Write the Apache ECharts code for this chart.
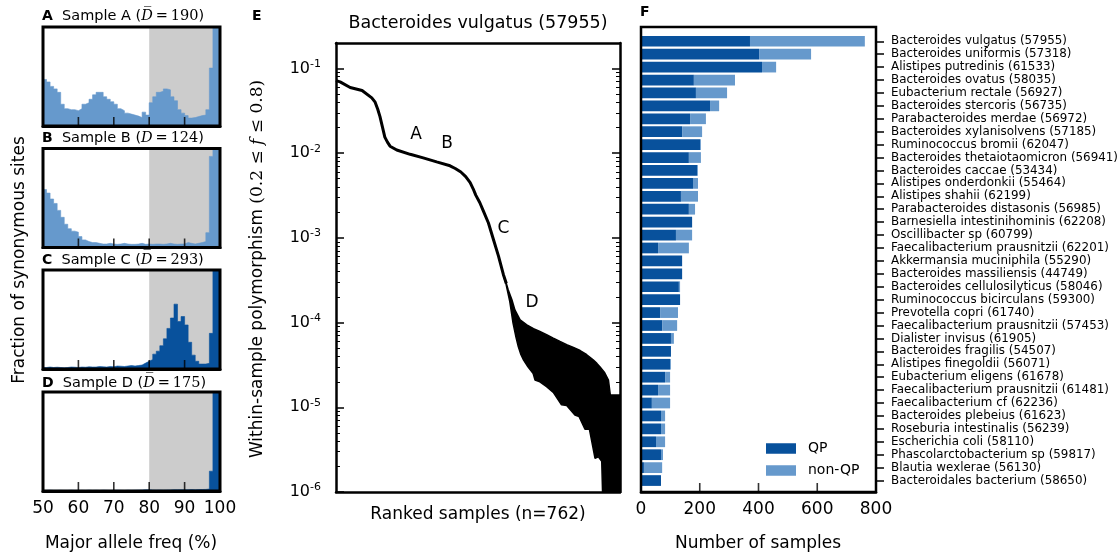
<!DOCTYPE html>
<html><head><meta charset="utf-8">
<script src="https://cdn.jsdelivr.net/npm/echarts@6/dist/echarts.min.js"></script>
<style>html,body{margin:0;padding:0;background:#fff}#c{width:1120px;height:556px}</style>
</head><body><div id="c"></div>
<script>
// ---------- Panels A-D: histograms of major allele frequency (1% bins, bin start) ----------
const freqBins = [50,51,52,53,54,55,56,57,58,59,60,61,62,63,64,65,66,67,68,69,70,71,72,73,74,75,76,77,78,79,80,81,82,83,84,85,86,87,88,89,90,91,92,93,94,95,96,97,98,99];
const freqTicks = [50,60,70,80,90,100];
const histA = [0.47,0.445,0.40,0.375,0.34,0.22,0.175,0.165,0.165,0.155, 0.175,0.22,0.235,0.27,0.315,0.34,0.34,0.295,0.27,0.245, 0.22,0.175,0.155,0.13,0.12,0.11,0.10,0.085,0.14,0.11, 0.235,0.295,0.34,0.35,0.375,0.365,0.295,0.255,0.165,0.13, 0.105,0.08,0.085,0.095,0.105,0.11,0.165,0.585,3,3];
const histB = [0.585,0.55,0.49,0.445,0.375,0.305,0.235,0.19,0.165,0.155, 0.11,0.077,0.06,0.05,0.05,0.042,0.035,0.035,0.042,0.035, 0.032,0.035,0.042,0.035,0.032,0.032,0.035,0.042,0.032,0.035, 0.032,0.035,0.035,0.032,0.035,0.042,0.035,0.032,0.035,0.035, 0.05,0.042,0.035,0.042,0.05,0.06,0.15,0.92,1.2,3];
const histC = [0.015,0.02,0.015,0.018,0.015,0.012,0.015,0.02,0.018,0.015, 0.02,0.018,0.022,0.02,0.02,0.025,0.022,0.02,0.025,0.022, 0.03,0.028,0.025,0.03,0.035,0.03,0.035,0.04,0.06,0.078, 0.095,0.15,0.18,0.235,0.305,0.41,0.515,0.655,0.48,0.53, 0.445,0.27,0.14,0.078,0.05,0.05,0.057,0.36,3,3];
const histD = [0.006,0.008,0.006,0.006,0.007,0.006,0.006,0.008,0.006,0.006, 0.007,0.006,0.008,0.006,0.007,0.006,0.008,0.007,0.006,0.007, 0.008,0.007,0.006,0.008,0.007,0.008,0.009,0.01,0.012,0.012, 0.01,0.009,0.01,0.009,0.01,0.011,0.012,0.012,0.013,0.012, 0.013,0.014,0.013,0.014,0.015,0.016,0.02,0.2,3,3];
const sampleTitles = ['A','B','C','D'];
const sampleDepths = [190,124,293,175];

// ---------- Panel E: ranked within-sample polymorphism ----------
const mainRank = [0,11,38,70,96,105,112,118,125,131,138,145,163,199,234,270,306,320,335,348,360,368,375,386,395,409,422,436,449,457];
const mainVal  = [0.072,0.0695,0.0596,0.055,0.045,0.040,0.033,0.027,0.020,0.0155,0.0135,0.0121,0.0109,0.0097,0.0088,0.0079,0.0071,0.0066,0.0060,0.0053,0.0045,0.0038,0.0032,0.0026,0.0021,0.0015,0.00097,0.00061,0.00037,0.00029];
const upperRank = [455,462,472,480,494,512,530,547,565,583,601,619,637,655,672,690,700,708,720,731,734,736,762];
const upperVal  = [0.00031,0.000245,0.000186,0.000141,0.000108,0.000094,0.000085,0.0000785,0.000072,0.0000656,0.00006,0.0000549,0.000051,0.0000468,0.000042,0.0000363,0.000033,0.0000302,0.000026,0.000021,0.000021,0.000014,0.000014];
const lowerRank = [451,455,466,475,482,489,496,503,515,529,534,547,565,583,605,619,641,652,668,680,695,704,713,716,717];
const lowerVal  = [0.00034,0.00030,0.00018,0.0000986,0.00007,0.0000521,0.000042,0.0000363,0.00003,0.0000251,0.000021,0.00002,0.0000175,0.000015,0.0000107,0.0000105,0.0000081,0.0000078,0.0000055,0.0000055,0.0000025,0.0000026,0.0000023,0.0000023,0.0000005];
const logDecades = [1e-6,1e-5,1e-4,1e-3,1e-2,1e-1];

// ---------- Panel F: number of samples per species ----------
const species = ['Bacteroides vulgatus (57955)','Bacteroides uniformis (57318)','Alistipes putredinis (61533)','Bacteroides ovatus (58035)','Eubacterium rectale (56927)','Bacteroides stercoris (56735)','Parabacteroides merdae (56972)','Bacteroides xylanisolvens (57185)','Ruminococcus bromii (62047)','Bacteroides thetaiotaomicron (56941)','Bacteroides caccae (53434)','Alistipes onderdonkii (55464)','Alistipes shahii (62199)','Parabacteroides distasonis (56985)','Barnesiella intestinihominis (62208)','Oscillibacter sp (60799)','Faecalibacterium prausnitzii (62201)','Akkermansia muciniphila (55290)','Bacteroides massiliensis (44749)','Bacteroides cellulosilyticus (58046)','Ruminococcus bicirculans (59300)','Prevotella copri (61740)','Faecalibacterium prausnitzii (57453)','Dialister invisus (61905)','Bacteroides fragilis (54507)','Alistipes finegoldii (56071)','Eubacterium eligens (61678)','Faecalibacterium prausnitzii (61481)','Faecalibacterium cf (62236)','Bacteroides plebeius (61623)','Roseburia intestinalis (56239)','Escherichia coli (58110)','Phascolarctobacterium sp (59817)','Blautia wexlerae (56130)','Bacteroidales bacterium (58650)'];
const qpCounts    = [371,402,412,180,187,235,167,140,201,163,191,177,136,163,174,119,58,140,140,129,133,65,72,102,102,99,82,58,37,68,68,51,68,10,68];
const totalCounts = [762,579,460,320,293,266,221,208,204,204,194,194,194,184,174,174,163,140,140,133,133,126,123,112,102,102,99,99,99,82,82,82,75,72,68];
const countTicks = [0,200,400,600,800];

// ---------- build ----------
const DARK = '#08519c', LIGHT = '#6699cc', GREY = '#cccccc';
const FONT = 'DejaVu Sans';
const hists = [histA, histB, histC, histD];
const histColors = [LIGHT, LIGHT, DARK, DARK];
const histTops = [27, 148.5, 270, 392];
const TICK_LEN = 9;

const minorTicks = [];
logDecades.slice(0,5).forEach(d => { for (let m = 2; m <= 9; m++) minorTicks.push(+(m*d).toPrecision(3)); });
minorTicks.push(0.2);

// inner x-axis tick marks: thin rect symbols sitting on the axis (placed through the axis scale)
const tickSeries = (xi, yi, vals) => ({type: 'scatter', xAxisIndex: xi, yAxisIndex: yi, data: vals.map(v => [v, 0]),
  symbol: 'rect', symbolSize: [1.6, TICK_LEN], symbolOffset: [0, -TICK_LEN / 2], clip: false,
  itemStyle: {color: '#000'}, silent: true, z: 20, animation: false});

const grid = [], xAxis = [], yAxis = [], series = [];
hists.forEach((h, i) => {
  grid.push({left: 43, width: 177, top: histTops[i], height: 99, show: true, borderColor: '#000', borderWidth: 3, z: 10, outerBoundsMode: 'none', containLabel: false});
  xAxis.push({type: 'value', gridIndex: i, min: 50, max: 100, interval: 10, position: 'bottom', z: 12,
    axisLine: {show: true, onZero: false, lineStyle: {color: '#000', width: 3}}, splitLine: {show: false},
    axisTick: {show: false},
    axisLabel: {show: i === 3, customValues: freqTicks, fontSize: 17, fontFamily: FONT, color: '#000', margin: 9}});
  yAxis.push({type: 'value', gridIndex: i, min: 0, max: 1, show: false});
  const pts = freqBins.map((b, k) => [b, h[k]]);
  pts.push([freqTicks[freqTicks.length - 1], h[h.length - 1]]);
  series.push({type: 'line', xAxisIndex: i, yAxisIndex: i, data: pts, step: 'end', symbol: 'none',
    lineStyle: {width: 0.6, color: histColors[i]}, areaStyle: {color: histColors[i], opacity: 1, origin: 'start'},
    silent: true, z: 2});
  series.push({type: 'line', xAxisIndex: i, yAxisIndex: i, data: [], z: 1, silent: true,
    markArea: {silent: true, itemStyle: {color: GREY}, data: [[{xAxis: 80}, {xAxis: 100}]]}});
  series.push(tickSeries(i, i, freqTicks.slice(1, -1)));
});

// Panel E grid index 4
grid.push({left: 336, width: 284, top: 43, height: 449, show: false, outerBoundsMode: 'none', containLabel: false});
const eX = {type: 'value', gridIndex: 4, min: 0, max: 762, z: 10,
  axisLine: {show: true, onZero: false, lineStyle: {color: '#000', width: 2.5}},
  axisTick: {show: false}, axisLabel: {show: false}, splitLine: {show: false}};
xAxis.push(Object.assign({position: 'bottom'}, eX));   // 4
xAxis.push(Object.assign({}, eX, {position: 'top'}));  // 5
function eY(pos, major) {
  return {type: 'log', gridIndex: 4, min: 1e-6, max: 0.2, position: pos, z: 10,
    axisLine: {show: major, onZero: false, lineStyle: {color: '#000', width: 2.5}},
    splitLine: {show: false}, minorTick: {show: false},
    axisTick: {show: true, inside: true, length: major ? 8 : 4, customValues: major ? logDecades : minorTicks,
      lineStyle: {color: '#000', width: major ? 1.5 : 1}},
    axisLabel: {show: major && pos === 'left', customValues: logDecades, margin: 15, color: '#000',
      fontFamily: FONT, fontSize: 16, lineHeight: 20,
      formatter: v => '10{s|' + Math.round(Math.log10(v)) + '}',
      rich: {s: {fontSize: 11, fontFamily: FONT, verticalAlign: 'top', lineHeight: 12, color: '#000'}}}};
}
yAxis.push(eY('left', true));   // 4
yAxis.push(eY('left', false));  // 5
yAxis.push(eY('right', true));  // 6
yAxis.push(eY('right', false)); // 7
series.push({type: 'line', xAxisIndex: 4, yAxisIndex: 4, data: upperRank.map((r, k) => [r, upperVal[k]]),
  symbol: 'none', lineStyle: {color: '#000', width: 1.5}, areaStyle: {color: '#000', opacity: 1, origin: 'start'}, z: 3, silent: true});
series.push({type: 'line', xAxisIndex: 4, yAxisIndex: 4, data: lowerRank.map((r, k) => [r, lowerVal[k]]),
  symbol: 'none', lineStyle: {color: '#000', width: 1.5}, areaStyle: {color: '#fff', opacity: 1, origin: 'start'}, z: 4, silent: true});
series.push({type: 'line', xAxisIndex: 4, yAxisIndex: 4, data: mainRank.map((r, k) => [r, mainVal[k]]),
  symbol: 'none', lineStyle: {color: '#000', width: 3}, z: 5, silent: true});

// Panel F grids 5 (box) and 6 (bars)
grid.push({left: 641, width: 235, top: 27, height: 465, show: true, borderColor: '#000', borderWidth: 2.5, z: 10, outerBoundsMode: 'none', containLabel: false});
grid.push({left: 641, width: 235, top: 34.8, height: 452.2, show: false, outerBoundsMode: 'none', containLabel: false});
xAxis.push({type: 'value', gridIndex: 5, min: 0, max: 800, interval: 200, position: 'bottom', z: 12,
  axisLine: {show: true, onZero: false, lineStyle: {color: '#000', width: 2.5}}, splitLine: {show: false},
  axisTick: {show: false},
  axisLabel: {customValues: countTicks, fontSize: 17, fontFamily: FONT, color: '#000', margin: 9}}); // 6
xAxis.push({type: 'value', gridIndex: 6, min: 0, max: 800, show: false}); // 7
yAxis.push({type: 'value', gridIndex: 5, min: 0, max: 1, show: false}); // 8
yAxis.push({type: 'category', gridIndex: 6, data: species, inverse: true, position: 'right', offset: 0, z: 10,
  axisLine: {show: false, onZero: false}, splitLine: {show: false},
  axisTick: {show: true, inside: false, alignWithLabel: true, interval: 0, length: 8, lineStyle: {color: '#000', width: 1.5}},
  axisLabel: {interval: 0, fontSize: 11.9, fontFamily: FONT, color: '#000', margin: 15}}); // 9
series.push({name: 'QP', type: 'bar', stack: 'n', xAxisIndex: 7, yAxisIndex: 9, data: qpCounts,
  barCategoryGap: '17%', itemStyle: {color: DARK}, silent: true});
series.push({name: 'non-QP', type: 'bar', stack: 'n', xAxisIndex: 7, yAxisIndex: 9,
  data: totalCounts.map((t, k) => t - qpCounts[k]), barCategoryGap: '17%', itemStyle: {color: LIGHT}, silent: true});
series.push(tickSeries(6, 8, countTicks.slice(1, -1)));

// texts
const T = (x, y, text, opt) => ({type: 'text', x, y, silent: true, rotation: (opt && opt.rot) || 0,
  style: Object.assign({text, fill: '#000', fontFamily: FONT, fontSize: 17, align: 'center', verticalAlign: 'middle'}, opt && opt.style)});
const titleY = [16.5, 138.3, 260, 383.3];
const graphic = [];
sampleTitles.forEach((s, i) => {
  graphic.push(T(42, titleY[i], '{b|' + s + '}  Sample ' + s + ' ({mi|D\u0305}{m|\u2009=\u2009' + sampleDepths[i] + '})', {style: {
    align: 'left', fontSize: 14.5,
    rich: {b: {fontWeight: 'bold', fontSize: 14, fontFamily: FONT}, mi: {fontFamily: 'DejaVu Serif', fontStyle: 'italic', fontSize: 14.5}, m: {fontFamily: 'DejaVu Serif', fontSize: 14.5}}}}));
});
graphic.push(T(20, 260, 'Fraction of synonymous sites', {rot: Math.PI/2}));
graphic.push(T(131, 544, 'Major allele freq (%)'));
graphic.push(T(252, 16.7, 'E', {style: {align: 'left', fontWeight: 'bold', fontSize: 14}}));
graphic.push(T(478, 23.3, 'Bacteroides vulgatus (57955)', {style: {fontSize: 17.5}}));
graphic.push(T(258, 269, 'Within-sample polymorphism {m|(0.2 \u2264 }{mi|f}{m| \u2264 0.8)}', {rot: Math.PI/2, style: {
  rich: {m: {fontFamily: 'DejaVu Serif', fontSize: 17}, mi: {fontFamily: 'DejaVu Serif', fontStyle: 'italic', fontSize: 17}}}}));
graphic.push(T(478, 515, 'Ranked samples (n=762)'));
graphic.push(T(416, 135, 'A'));
graphic.push(T(447, 144, 'B'));
graphic.push(T(503.5, 228.5, 'C'));
graphic.push(T(532, 303, 'D'));
graphic.push(T(640, 12, 'F', {style: {align: 'left', fontWeight: 'bold', fontSize: 14}}));
graphic.push(T(758, 544, 'Number of samples'));

const chart = echarts.init(document.getElementById('c'), null, {renderer: 'canvas'});
chart.setOption({
  animation: false,
  backgroundColor: '#fff',
  textStyle: {fontFamily: FONT},
  grid, xAxis, yAxis, series, graphic,
  legend: {data: ['QP', 'non-QP'], left: 766, top: 441.5, orient: 'vertical', icon: 'rect', padding: 0,
    itemWidth: 30, itemHeight: 10.5, itemGap: 8, selectedMode: false,
    textStyle: {fontSize: 14, fontFamily: FONT, color: '#000', lineHeight: 14, padding: [0, 0, 0, 7]}}
});
</script></body></html>
